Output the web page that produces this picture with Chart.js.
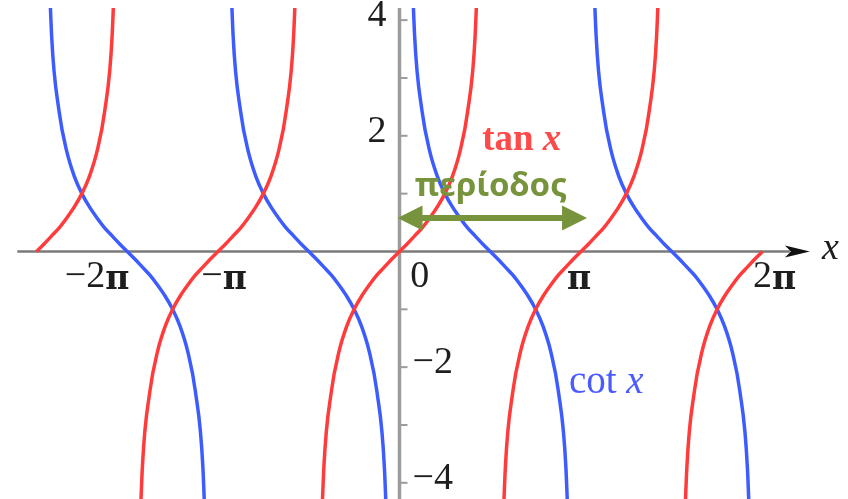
<!DOCTYPE html>
<html>
<head>
<meta charset="utf-8">
<script src="https://cdn.jsdelivr.net/npm/chart.js@4.4.1/dist/chart.umd.min.js"></script>
<style>
  html, body { margin: 0; padding: 0; background: #fff; }
  #wrap { width: 848px; height: 499px; }
</style>
</head>
<body>
<div id="wrap"><canvas id="trigChart" width="848" height="499"></canvas></div>
<script>
// x in degrees, sampled every 7.5 deg from -2pi to 2pi
const xs = [
  -360, -352.5, -345, -337.5, -330, -322.5, -315, -307.5, -300, -292.5, -285, -277.5,
  -270, -262.5, -255, -247.5, -240, -232.5, -225, -217.5, -210, -202.5, -195, -187.5,
  -180, -172.5, -165, -157.5, -150, -142.5, -135, -127.5, -120, -112.5, -105, -97.5,
  -90, -82.5, -75, -67.5, -60, -52.5, -45, -37.5, -30, -22.5, -15, -7.5,
  0, 7.5, 15, 22.5, 30, 37.5, 45, 52.5, 60, 67.5, 75, 82.5,
  90, 97.5, 105, 112.5, 120, 127.5, 135, 142.5, 150, 157.5, 165, 172.5,
  180, 187.5, 195, 202.5, 210, 217.5, 225, 232.5, 240, 247.5, 255, 262.5,
  270, 277.5, 285, 292.5, 300, 307.5, 315, 322.5, 330, 337.5, 345, 352.5,
  360
];

const tanValues = [
  0, 0.13, 0.27, 0.41, 0.58, 0.77, 1, 1.3, 1.73, 2.41, 3.73, 7.6,
  null, -7.6, -3.73, -2.41, -1.73, -1.3, -1, -0.77, -0.58, -0.41, -0.27, -0.13,
  0, 0.13, 0.27, 0.41, 0.58, 0.77, 1, 1.3, 1.73, 2.41, 3.73, 7.6,
  null, -7.6, -3.73, -2.41, -1.73, -1.3, -1, -0.77, -0.58, -0.41, -0.27, -0.13,
  0, 0.13, 0.27, 0.41, 0.58, 0.77, 1, 1.3, 1.73, 2.41, 3.73, 7.6,
  null, -7.6, -3.73, -2.41, -1.73, -1.3, -1, -0.77, -0.58, -0.41, -0.27, -0.13,
  0, 0.13, 0.27, 0.41, 0.58, 0.77, 1, 1.3, 1.73, 2.41, 3.73, 7.6,
  null, -7.6, -3.73, -2.41, -1.73, -1.3, -1, -0.77, -0.58, -0.41, -0.27, -0.13,
  0
];

const cotValues = [
  null, 7.6, 3.73, 2.41, 1.73, 1.3, 1, 0.77, 0.58, 0.41, 0.27, 0.13,
  0, -0.13, -0.27, -0.41, -0.58, -0.77, -1, -1.3, -1.73, -2.41, -3.73, -7.6,
  null, 7.6, 3.73, 2.41, 1.73, 1.3, 1, 0.77, 0.58, 0.41, 0.27, 0.13,
  0, -0.13, -0.27, -0.41, -0.58, -0.77, -1, -1.3, -1.73, -2.41, -3.73, -7.6,
  null, 7.6, 3.73, 2.41, 1.73, 1.3, 1, 0.77, 0.58, 0.41, 0.27, 0.13,
  0, -0.13, -0.27, -0.41, -0.58, -0.77, -1, -1.3, -1.73, -2.41, -3.73, -7.6,
  null, 7.6, 3.73, 2.41, 1.73, 1.3, 1, 0.77, 0.58, 0.41, 0.27, 0.13,
  0, -0.13, -0.27, -0.41, -0.58, -0.77, -1, -1.3, -1.73, -2.41, -3.73, -7.6,
  null
];

// tick labels (x positions in degrees, as placed in the picture)
const xTickPos = [-300, -174, 20, 178, 372];
const xTickLabels = ["−2π", "−π", "0", "π", "2π"];
const yTickMarks = [-4, -3, -2, -1, 1, 2, 3, 4];
const yLabelVals = [4, 2, -2, -4];
const yLabelText = ["4", "2", "−2", "−4"];

// the period arrow, in degrees
const periodFrom = -2;
const periodTo = 186;
const periodLevel = 0.58;

const RED = "#ff3b3b";
const BLUE = "#3d5cff";
const GREEN = "#77933c";
const SERIF = "'Liberation Serif', 'DejaVu Serif', serif";
const PI_FONT = "bold 33px 'DejaVu Serif', serif";

// draws a tick label, the pi glyph in a wider serif
function drawTickLabel(ctx, text, cx, cy) {
  const numFont = "38px " + SERIF;
  const hasPi = text.endsWith("π");
  const head = hasPi ? text.slice(0, -1) : text;
  ctx.font = numFont;
  const wHead = ctx.measureText(head).width;
  ctx.font = PI_FONT;
  const wPi = hasPi ? ctx.measureText("π").width : 0;
  let px = cx - (wHead + wPi) / 2;
  ctx.textAlign = "left";
  ctx.font = numFont;
  ctx.fillText(head, px, cy);
  if (hasPi) {
    ctx.font = PI_FONT;
    ctx.fillText("π", px + wHead, cy + 3);
  }
}

const axesPlugin = {
  id: "axes",
  beforeDatasetsDraw(chart) {
    const { ctx, chartArea, scales: { x, y } } = chart;
    const x0 = x.getPixelForValue(0);
    const y0 = y.getPixelForValue(0);
    ctx.save();

    // y axis + small ticks on its right
    ctx.strokeStyle = "#9c9c9c";
    ctx.lineWidth = 3.5;
    ctx.beginPath();
    ctx.moveTo(x0, chartArea.top);
    ctx.lineTo(x0, chartArea.bottom);
    ctx.stroke();
    ctx.lineWidth = 2;
    yTickMarks.forEach(v => {
      const py = y.getPixelForValue(v);
      ctx.beginPath();
      ctx.moveTo(x0 + 1, py);
      ctx.lineTo(x0 + 8, py);
      ctx.stroke();
    });

    // x axis with arrow
    const left = x.getPixelForValue(-379);
    const tip = x.getPixelForValue(407);
    ctx.strokeStyle = "#7a7a7a";
    ctx.lineWidth = 2.5;
    ctx.beginPath();
    ctx.moveTo(left, y0);
    ctx.lineTo(tip - 20, y0);
    ctx.stroke();
    ctx.fillStyle = "#111";
    ctx.beginPath();
    ctx.moveTo(tip, y0);
    ctx.lineTo(tip - 25, y0 - 6);
    ctx.lineTo(tip - 19, y0);
    ctx.lineTo(tip - 25, y0 + 6);
    ctx.closePath();
    ctx.fill();

    ctx.fillStyle = "#1e1e1e";
    ctx.font = "italic 38px " + SERIF;
    ctx.textAlign = "left";
    ctx.textBaseline = "middle";
    ctx.fillText("x", tip + 12, y0 - 2);

    // tick labels
    xTickPos.forEach((v, i) => {
      drawTickLabel(ctx, xTickLabels[i], x.getPixelForValue(v), y0 + 26);
    });
    ctx.font = "38px " + SERIF;
    yLabelVals.forEach((v, i) => {
      const py = y.getPixelForValue(v) - 4;
      ctx.textAlign = v > 0 ? "right" : "left";
      ctx.fillText(yLabelText[i], v > 0 ? x0 - 13 : x0 + 13, py);
    });
    ctx.restore();
  },
  afterDatasetsDraw(chart) {
    const { ctx, scales: { x, y } } = chart;
    ctx.save();

    // curve names
    ctx.textBaseline = "alphabetic";
    ctx.textAlign = "left";
    let px = x.getPixelForValue(82);
    let py = y.getPixelForValue(1.76);
    ctx.fillStyle = "#ff4a4a";
    ctx.font = "bold 37px " + SERIF;
    ctx.fillText("tan ", px, py);
    px += ctx.measureText("tan ").width;
    ctx.font = "italic bold 37px " + SERIF;
    ctx.fillText("x", px, py);

    px = x.getPixelForValue(168);
    py = y.getPixelForValue(-2.445);
    ctx.fillStyle = "#4a5cff";
    ctx.font = "39px " + SERIF;
    ctx.fillText("cot ", px, py);
    px += ctx.measureText("cot ").width;
    ctx.font = "italic 39px " + SERIF;
    ctx.fillText("x", px, py);

    // period arrow
    const a = x.getPixelForValue(periodFrom);
    const b = x.getPixelForValue(periodTo);
    const ay = y.getPixelForValue(periodLevel);
    ctx.strokeStyle = GREEN;
    ctx.fillStyle = GREEN;
    ctx.lineWidth = 6;
    ctx.beginPath();
    ctx.moveTo(a + 20, ay);
    ctx.lineTo(b - 20, ay);
    ctx.stroke();
    ctx.beginPath();
    ctx.moveTo(a, ay);
    ctx.lineTo(a + 25, ay - 12.5);
    ctx.lineTo(a + 25, ay + 12.5);
    ctx.closePath();
    ctx.fill();
    ctx.beginPath();
    ctx.moveTo(b, ay);
    ctx.lineTo(b - 25, ay - 12.5);
    ctx.lineTo(b - 25, ay + 12.5);
    ctx.closePath();
    ctx.fill();

    ctx.font = "bold 33px 'Noto Sans', 'Open Sans', sans-serif";
    ctx.textAlign = "center";
    ctx.fillText("περίοδος", x.getPixelForValue(90.7), y.getPixelForValue(0.96));
    ctx.restore();
  }
};

new Chart(document.getElementById("trigChart"), {
  type: "line",
  data: {
    datasets: [
      {
        label: "tan x",
        data: xs.map((v, i) => ({ x: v, y: tanValues[i] })),
        borderColor: RED,
        borderWidth: 3.5,
        pointRadius: 0,
        cubicInterpolationMode: "monotone",
        spanGaps: false
      },
      {
        label: "cot x",
        data: xs.map((v, i) => ({ x: v, y: cotValues[i] })),
        borderColor: BLUE,
        borderWidth: 3.5,
        pointRadius: 0,
        cubicInterpolationMode: "monotone",
        spanGaps: false
      }
    ]
  },
  options: {
    responsive: false,
    animation: false,
    events: [],
    layout: { padding: { top: 8, left: 0, right: 0, bottom: 0 } },
    plugins: { legend: { display: false }, tooltip: { enabled: false } },
    scales: {
      x: { type: "linear", display: false, min: -396.2, max: 444.8 },
      y: { type: "linear", display: false, min: -4.28, max: 4.21 }
    }
  },
  plugins: [axesPlugin]
});
</script>
</body>
</html>
